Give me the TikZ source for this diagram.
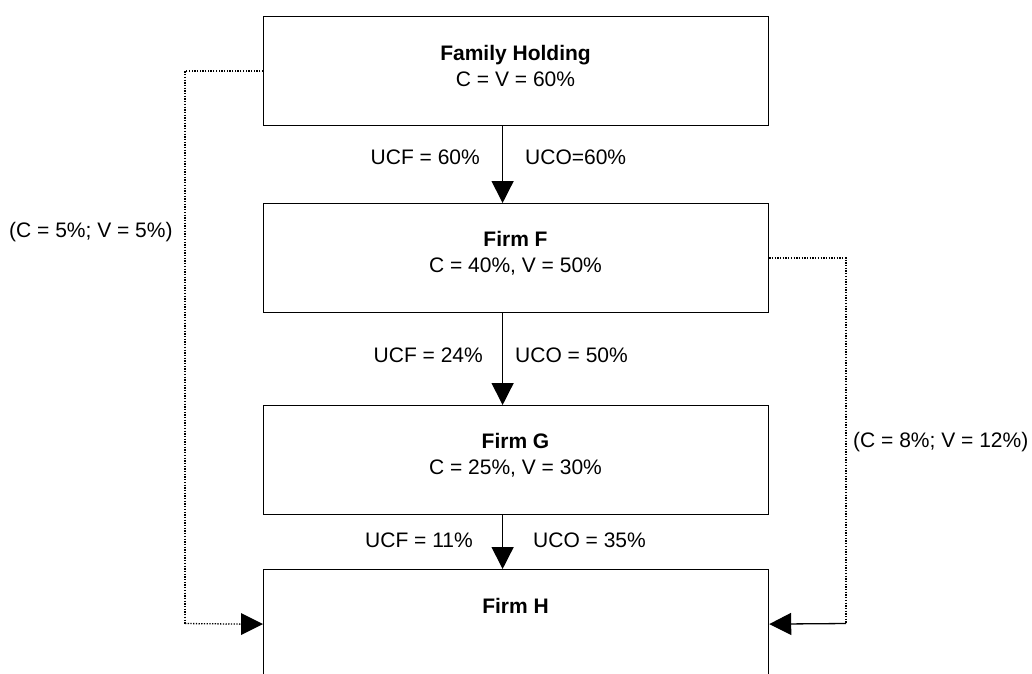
\documentclass[tikz,border=0pt]{standalone}
\usepackage{fontspec}
\setmainfont{Liberation Sans}
\usetikzlibrary{arrows.meta}
\begin{document}
\begin{tikzpicture}[x=1pt,y=-1pt,
  box/.style={draw, line width=1.2pt, minimum width=505pt, minimum height=109pt, inner sep=0pt, anchor=north west},
  boxtext/.style={align=center, inner sep=0pt, font=\fontsize{21}{26}\selectfont},
  lbl/.style={inner sep=0pt, font=\fontsize{21}{26}\selectfont},
  flow/.style={line width=1.4pt, -{Triangle[length=22pt,width=22pt]}},
  dots/.style={line width=1.3pt, dash pattern=on 1.3pt off 1.4pt},
]
\useasboundingbox (0,0) rectangle (1032,673);
\clip (0,0) rectangle (1032,673);
\fill[white] (0,0) rectangle (1032,673);
% boxes
\node[box] (fh) at (263,16) {};
\node[box] (ff) at (263,203) {};
\node[box] (fg) at (263,405) {};
\node[box] (fhh) at (263,569) {};
% box texts
\node[boxtext] (fht) at (515.5,66) {\textbf{Family Holding}\\C = V = 60\%};
\node[boxtext] (fft) at (515.5,253) {\textbf{Firm F}\\C = 40\%, V = 50\%};
\node[boxtext] (fgt) at (515.5,455) {\textbf{Firm G}\\C = 25\%, V = 30\%};
\node[boxtext] (fhht) at (515.5,606) {\textbf{Firm H}};
% vertical arrows
\draw[flow] ([xshift=-13.5pt]fh.south) -- ([xshift=-13.5pt]ff.north);
\draw[flow] ([xshift=-13.5pt]ff.south) -- ([xshift=-13.5pt]fg.north);
\draw[flow] ([xshift=-13.5pt]fg.south) -- ([xshift=-13.5pt]fhh.north);
% side connectors
\coordinate (lc) at (185,623.5);
\coordinate (rc) at (846,623.5);
\draw[dots] (fh.west) -| (lc);
\draw[dots] (lc) -- ([xshift=-22pt]fhh.west);
\fill ([xshift=-22pt,yshift=11pt]fhh.west) -- (fhh.west) -- ([xshift=-22pt,yshift=-11pt]fhh.west) -- cycle;
\draw[dots] (ff.east) -| (rc);
\draw[flow, line width=1.3pt] (rc) -- (fhh.east);
% labels
\node[lbl, anchor=east] (l1) at (480,157) {UCF = 60\%};
\node[lbl, anchor=west] (r1) at (525,157) {UCO=60\%};
\node[lbl, anchor=east] (l2) at (483,355) {UCF = 24\%};
\node[lbl, anchor=west] (r2) at (515,355) {UCO = 50\%};
\node[lbl, anchor=east] (l3) at (473,540) {UCF = 11\%};
\node[lbl, anchor=west] (r3) at (533,540) {UCO = 35\%};
\node[lbl, anchor=west] (cl) at (9,232) {(C = 5\%; V = 5\%)};
\node[lbl, anchor=west] (cr) at (853,442) {(C = 8\%; V = 12\%)};
\end{tikzpicture}
\end{document}
